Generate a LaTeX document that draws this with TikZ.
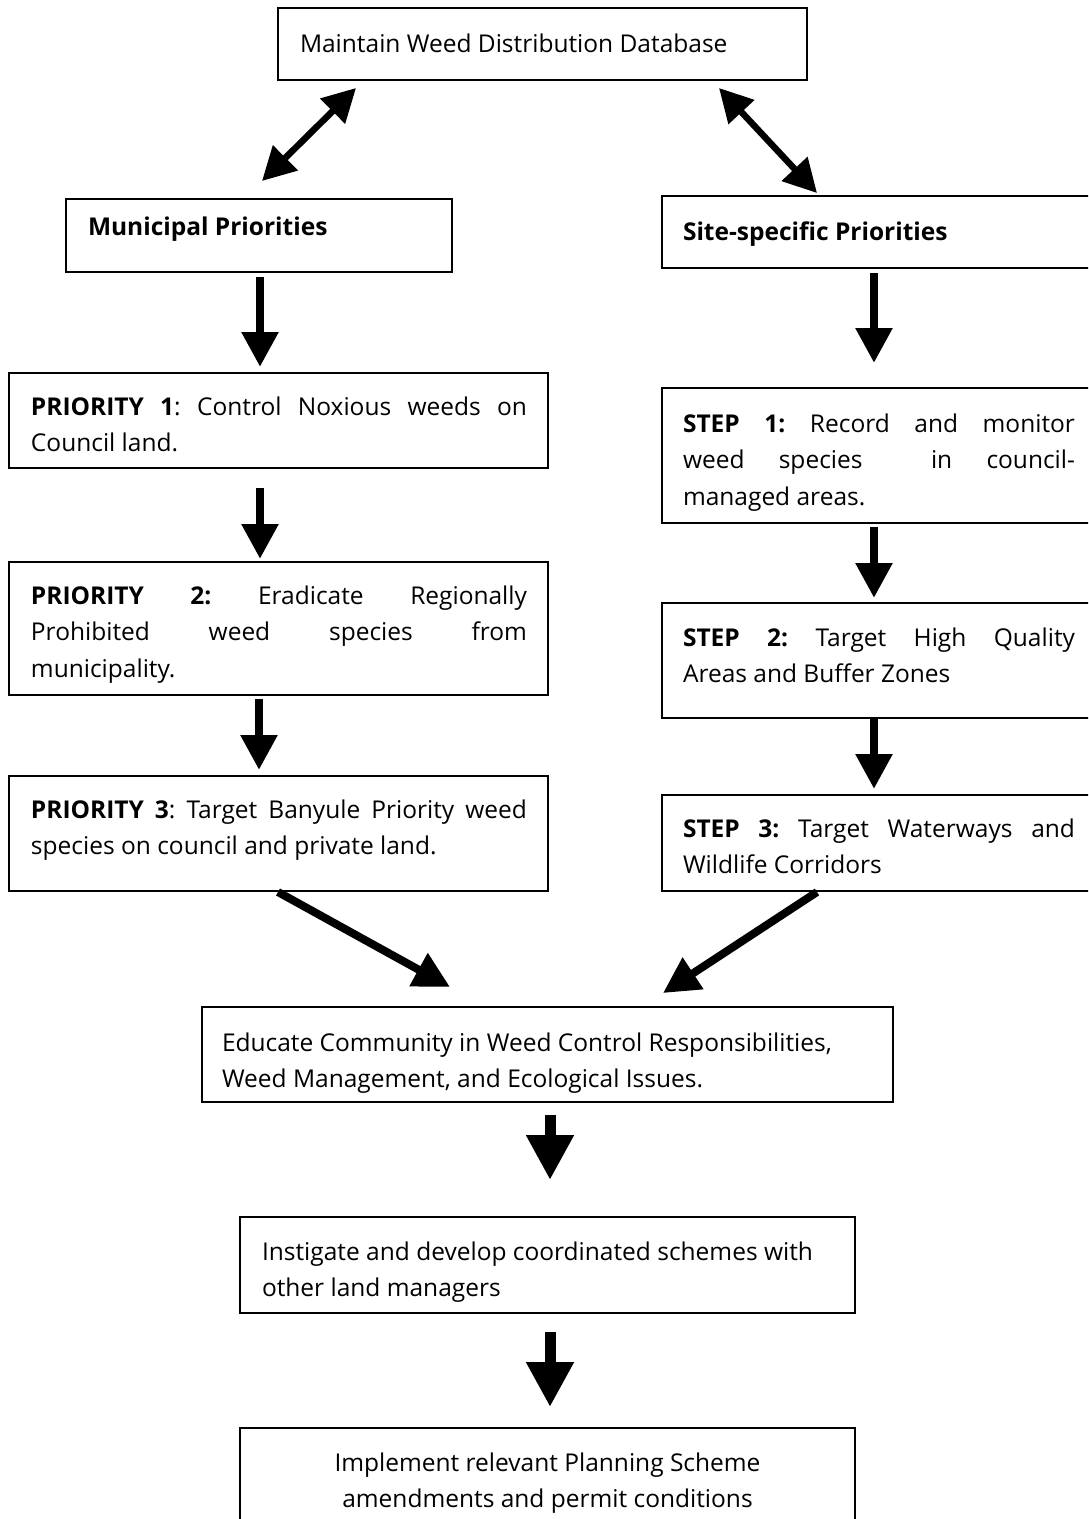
\documentclass[tikz,border=0pt]{standalone}
\usepackage{fontspec}
\setmainfont{Open Sans}
\usetikzlibrary{arrows.meta,calc}
\frenchspacing
\newcommand{\bfnt}{\fontsize{24.5}{36.5}\selectfont}
% #1 left pad, #2 text width, #3 right pad, #4 box height, #5 first baseline, #6 text
\newcommand{\boxtext}[6]{\hspace*{#1pt}\begin{minipage}[c][#4pt][t]{#2pt}\bfnt\frenchspacing\hbadness=10000\tolerance=10000\rule{0pt}{#5pt}#6\end{minipage}\hspace*{#3pt}}
\newcommand{\jl}[1]{\makebox[\linewidth][s]{#1}}
\begin{document}
\begin{tikzpicture}[x=1pt,y=-1pt,font=\bfnt,
  bx/.style={draw, line width=1.3pt, inner sep=0pt, outer sep=0pt, anchor=north west},
  varrow/.style={line width=8.5pt, -{Triangle[width=35pt,length=35pt]}},
  barrow/.style={line width=11pt, -{Triangle[width=45pt,length=45pt]}},
  darrow/.style={line width=8pt, -{Triangle[width=36pt,length=36pt]}},
  dbl/.style={line width=6.5pt, {Triangle[width=34pt,length=33pt]}-{Triangle[width=34pt,length=33pt]}}]
\useasboundingbox (0,0) rectangle (1088,1519);
\clip (0,0) rectangle (1088,1519);
\fill[white] (0,0) rectangle (1088,1519);

\node[bx] (top) at (278,8) {\boxtext{22}{500}{7}{72}{44}{Maintain Weed Distribution Database}};
\node[bx] (mun) at (66,199) {\boxtext{22}{350}{14}{73}{36}{\textbf{Municipal Priorities}}};
\node[bx] (site) at (662,196) {\boxtext{21}{392}{21}{72}{44}{\textbf{Site-specific Priorities}}};

\node[bx] (p1) at (9,373) {\boxtext{22}{496}{21}{95}{42}{\jl{\textbf{PRIORITY 1}: Control Noxious weeds on}\\Council land.}};
\node[bx] (p2) at (9,562) {\boxtext{22}{496}{21}{133}{42}{\jl{\textbf{PRIORITY 2:} Eradicate Regionally}\\\jl{Prohibited weed species from}\\municipality.}};
\node[bx] (p3) at (9,776) {\boxtext{22}{496}{21}{115}{42}{\jl{\textbf{PRIORITY 3}: Target Banyule Priority weed}\\species on council and private land.}};

\node[bx] (s1) at (662,388) {\boxtext{21}{392}{21}{135}{44}{\jl{\textbf{STEP 1:} Record and monitor}\\\jl{weed species\ \ in council-}\\managed areas.}};
\node[bx] (s2) at (662,603) {\boxtext{21}{392}{21}{115}{43}{\jl{\textbf{STEP 2:} Target High Quality}\\Areas and Buffer Zones}};
\node[bx] (s3) at (662,795) {\boxtext{21}{392}{21}{96}{42}{\jl{\textbf{STEP 3:} Target Waterways and}\\Wildlife Corridors}};

\node[bx] (edu) at (202,1007) {\boxtext{20}{670}{1}{95}{44}{Educate Community in Weed Control Responsibilities,\\Weed Management, and Ecological Issues.}};
\node[bx] (ins) at (240,1217) {\boxtext{22}{590}{3}{96}{43}{Instigate and develop coordinated schemes with\\other land managers}};
\node[bx] (imp) at (240,1428) {\boxtext{22}{571}{22}{100}{43}{\centering Implement relevant Planning Scheme\\amendments and permit conditions\par}};

% connectors
\draw[dbl] ($(top.south west)+(78,8)$) -- ($(mun.north west)+(196,-18)$);
\draw[dbl] ($(top.south east)+(-88,8)$) -- ($(site.north west)+(155,-3)$);

\draw[varrow] ($(mun.south)+(1,5)$) -- ($(p1.north west)+(251,-6)$);
\draw[varrow] ($(p1.south west)+(251,20)$) -- ($(p2.north west)+(251,-3)$);
\draw[varrow] ($(p2.south west)+(250,4)$) -- ($(p3.north west)+(250,-6)$);

\draw[varrow] ($(site.south west)+(212,5)$) -- ($(s1.north west)+(212,-25)$);
\draw[varrow] ($(s1.south west)+(212,4)$) -- ($(s2.north west)+(212,-5)$);
\draw[varrow] ($(s2.south west)+(212,1)$) -- ($(s3.north west)+(212,-6)$);

\draw[darrow] ($(p3.south west)+(269,1)$) -- ($(edu.north west)+(248,-20)$);
\draw[darrow] ($(s3.south west)+(155,1)$) -- ($(edu.north west)+(461,-14)$);

\draw[barrow] ($(edu.south west)+(348,13)$) -- ($(ins.north west)+(310,-37)$);
\draw[barrow] ($(ins.south west)+(310,19)$) -- ($(imp.north west)+(310,-21)$);
\end{tikzpicture}
\end{document}
